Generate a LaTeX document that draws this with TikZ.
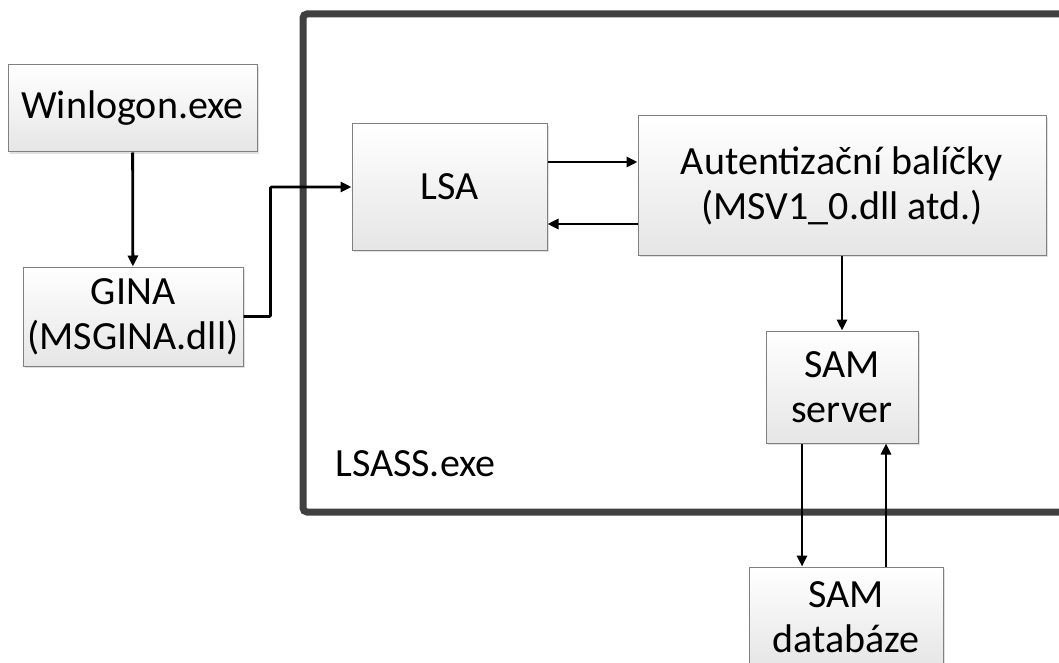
\documentclass[tikz,border=0pt]{standalone}
\usepackage{fontspec}
\setmainfont{Carlito}
\usetikzlibrary{arrows.meta,shadows}
\definecolor{framec}{HTML}{404040}
\definecolor{boxline}{HTML}{808080}
\tikzset{
  box/.style={draw=boxline, line width=1pt, top color=white, bottom color=black!10,
    align=center, inner sep=2pt,
    drop shadow={shadow xshift=2pt, shadow yshift=-2pt, fill=black!20, opacity=0.6}},
  txt/.style={font=\fontsize{40}{45}\selectfont},
  arr/.style={line width=2.8pt, -{Triangle[length=11pt,width=10pt]}},
}
\begin{document}
\begin{tikzpicture}[x=1pt,y=-1pt]
\clip (0,0) rectangle (1059,663);
\fill[white] (0,0) rectangle (1059,663);
% big LSASS frame
\draw[framec, line width=7pt, rounded corners=4pt] (1100,14) -- (303,14) -- (303,512) -- (1100,512);
\node[txt, anchor=west, inner sep=0pt] (lsass) at (335,464) {LSASS.exe};
% boxes
\node[box, txt, minimum width=249pt, minimum height=87pt] (win) at (132.5,108.5) {Winlogon.exe};
\node[box, txt, minimum width=220pt, minimum height=99pt] (gina) at (133,316.5) {GINA\\(MSGINA.dll)};
\node[box, txt, minimum width=195pt, minimum height=126pt] (lsa) at (449.5,187) {LSA};
\node[box, txt, minimum width=408pt, minimum height=139pt] (auth) at (842,185.5) {Autentizační balíčky\\(MSV1\_0.dll atd.)};
\node[box, txt, minimum width=152pt, minimum height=112pt] (srv) at (842,387) {SAM\\server};
\node[box, txt, minimum width=194pt, minimum height=100pt] (db) at (846,617) {SAM\\databáze};
% connectors
\draw[arr] (win) -- (gina);
\draw[arr, rounded corners=1pt] (gina.east) -- ++(27,0) |- (lsa.west);
\draw[arr] ([yshift=25pt]lsa.east) -- ([yshift=25pt]lsa.east -| auth.west);
\draw[arr] ([yshift=-37pt]lsa.east -| auth.west) -- ([yshift=-37pt]lsa.east);
\draw[arr] (auth) -- (srv);
\draw[arr] ([xshift=-40pt]srv.south) -- ([xshift=-40pt]srv.south |- db.north);
\draw[arr] ([xshift=44pt]srv.south |- db.north) -- ([xshift=44pt]srv.south);
\end{tikzpicture}
\end{document}
